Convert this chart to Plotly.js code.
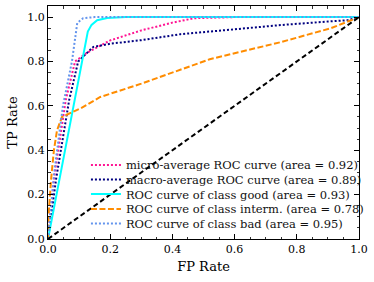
<!DOCTYPE html>
<html>
<head>
<meta charset="utf-8">
<script src="https://cdn.plot.ly/plotly-3.0.1.min.js"></script>
<style>
html,body{margin:0;padding:0;background:#fff;}
#chart{width:374px;height:282px;}
</style>
</head>
<body>
<div id="chart"></div>
<script>
// Legend labels
var labels = [
  "micro-average ROC curve (area = 0.92)",
  "macro-average ROC curve (area = 0.89)",
  "ROC curve of class good (area = 0.93)",
  "ROC curve of class interm. (area = 0.78)",
  "ROC curve of class bad (area = 0.95)"
];
// micro-average
var microFpr = [0, 0.019, 0.057, 0.087, 0.126, 0.2, 0.3, 0.4, 0.47, 0.6, 1];
var microTpr = [0, 0.27, 0.626, 0.8, 0.84, 0.895, 0.94, 0.975, 0.995, 1, 1];
// macro-average
var macroFpr = [0, 0.026, 0.068, 0.097, 0.145, 0.2, 0.3, 0.426, 0.6, 0.748, 0.9, 0.965, 1];
var macroTpr = [0, 0.27, 0.626, 0.8, 0.865, 0.88, 0.896, 0.923, 0.945, 0.964, 0.98, 0.986, 1];
// class good
var goodFpr = [0, 0.128, 0.14, 0.158, 0.19, 0.25, 1];
var goodTpr = [0, 0.935, 0.965, 0.986, 0.996, 1, 1];
// class interm.
var intermFpr = [0, 0.003, 0.01, 0.019, 0.029, 0.045, 0.106, 0.168, 0.3, 0.426, 0.52, 0.748, 0.91, 1];
var intermTpr = [0, 0.13, 0.27, 0.40, 0.49, 0.55, 0.59, 0.64, 0.70, 0.761, 0.81, 0.887, 0.95, 1];
// class bad
var badFpr = [0, 0.01, 0.02, 0.048, 0.077, 0.094, 0.113, 0.15, 0.3, 1];
var badTpr = [0, 0.15, 0.3, 0.6, 0.8, 0.973, 0.995, 1, 1, 1];
// chance diagonal
var diagX = [0, 1];
var diagY = [0, 1];

var rowsY = [0.3176, 0.2554, 0.1931, 0.1288, 0.0665];
var FONT = "DejaVu Serif";

var traces = [
  {x: microFpr, y: microTpr, name: labels[0], legend: 'legend', mode: 'lines',
   line: {color: '#ff1493', width: 2, dash: '2px,2px'}},
  {x: macroFpr, y: macroTpr, name: labels[1], legend: 'legend2', mode: 'lines',
   line: {color: '#000080', width: 2, dash: '2px,2px'}},
  {x: goodFpr, y: goodTpr, name: labels[2], legend: 'legend3', mode: 'lines',
   line: {color: '#00ffff', width: 2}},
  {x: intermFpr, y: intermTpr, name: labels[3], legend: 'legend4', mode: 'lines',
   line: {color: '#ff8c00', width: 2, dash: '6px,2.5px'}},
  {x: badFpr, y: badTpr, name: labels[4], legend: 'legend5', mode: 'lines',
   line: {color: '#6495ed', width: 2, dash: '2px,2px'}},
  {x: diagX, y: diagY, mode: 'lines', showlegend: false,
   line: {color: '#000000', width: 2, dash: '5px,3px'}}
];

function leg(y) {
  return {x: 0.122, y: y, xanchor: 'left', yanchor: 'middle',
    bgcolor: 'rgba(0,0,0,0)', borderwidth: 0,
    font: {family: FONT, size: 11.5, color: '#111'}};
}

var axisCommon = {
  showline: true, linecolor: '#000', linewidth: 1, mirror: 'ticks',
  ticks: 'inside', ticklen: 5, tickwidth: 1, tickcolor: '#000',
  showgrid: false, zeroline: false, dtick: 0.2, tickformat: '.1f',
  tickfont: {family: FONT, size: 11, color: '#000'},
  minor: {dtick: 0.05, ticks: 'inside', ticklen: 2.5, tickwidth: 0.8, tickcolor: '#000', showgrid: false}
};

var layout = {
  width: 374, height: 282,
  margin: {l: 48, r: 15, t: 6, b: 43, autoexpand: false},
  paper_bgcolor: '#fff', plot_bgcolor: '#fff',
  showlegend: true,
  xaxis: Object.assign({}, axisCommon, {range: [0, 1], tick0: 0,
    title: {text: 'FP Rate', font: {family: FONT, size: 13, color: '#000'}, standoff: 6}}),
  yaxis: Object.assign({}, axisCommon, {range: [0, 1.05], tick0: 0,
    title: {text: 'TP Rate', font: {family: FONT, size: 13, color: '#000'}, standoff: 6}}),
  legend: leg(rowsY[0]),
  legend2: leg(rowsY[1]),
  legend3: leg(rowsY[2]),
  legend4: leg(rowsY[3]),
  legend5: leg(rowsY[4])
};

Plotly.newPlot('chart', traces, layout, {staticPlot: true, displayModeBar: false});
</script>
</body>
</html>
